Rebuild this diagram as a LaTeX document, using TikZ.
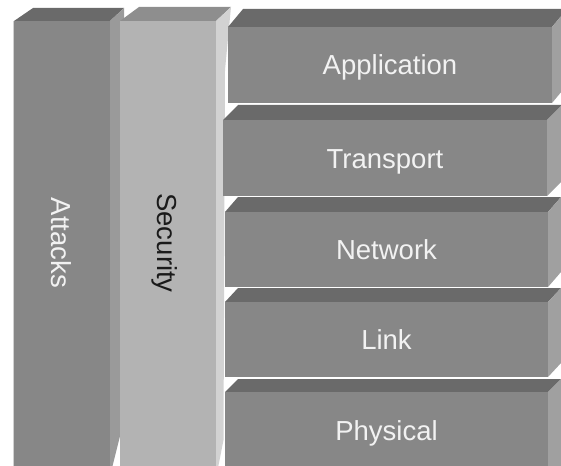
\documentclass[tikz,border=0pt]{standalone}
\usepackage{fontspec}
\setmainfont{Liberation Sans}
\definecolor{frontc}{HTML}{878787}
\definecolor{topc}{HTML}{6A6A6A}
\definecolor{sidec}{HTML}{A0A0A0}
\definecolor{secfront}{HTML}{B3B3B3}
\definecolor{sectop}{HTML}{8E8E8E}
\definecolor{secside}{HTML}{D2D2D2}
\definecolor{atkside}{HTML}{9A9A9A}
\definecolor{lbltext}{HTML}{F2F2F2}
\definecolor{sectext}{HTML}{1A1A1A}
\newcommand{\osilayer}[6]{%
  \fill[topc] (#1,#3) -- ({#1+#5},{#3-#6}) -- ({#2+#5},{#3-#6}) -- (#2,#3) -- cycle;
  \fill[sidec] (#2,#3) -- ({#2+#5},{#3-#6}) -- ({#2+#5},{#4-#6}) -- (#2,#4) -- cycle;
  \fill[frontc] (#1,#3) rectangle (#2,#4);
}
\begin{document}
\begin{tikzpicture}[x=1pt,y=-1pt,
  lbl/.style={font=\fontsize{27.5}{30}\selectfont, text=lbltext, inner sep=0pt, anchor=base},
  vlbl/.style={lbl, rotate=-90}]
\useasboundingbox (0,0) rectangle (561,465);
\begin{scope}
\clip (0,0) rectangle (561,465);
% Attacks column
\fill[topc] (14,21) -- (33,8) -- (124,8) -- (110,21) -- cycle;
\fill[atkside] (110,21) -- (124,8) -- (124,420) -- (112,468) -- (110,468) -- cycle;
\fill[frontc] (14,21) rectangle (110,470);
\draw[white!82!black, line width=0.8pt] (13.6,21) -- (13.6,470);
% Security column
\fill[sectop] (120,21) -- (139,7) -- (231,7) -- (216,21) -- cycle;
\fill[secside] (216,21) -- (231,7) -- (225,70) -- (223.5,440) -- (218,468) -- (216,468) -- cycle;
\fill[secfront] (120,21) rectangle (216,470);
% Layers
\osilayer{228}{552}{27}{103}{15}{18}
\osilayer{223}{547}{120}{196}{15}{15}
\osilayer{225}{548}{212}{287}{13}{15}
\osilayer{225}{548}{302}{377}{13}{14}
\osilayer{225}{548}{392}{490}{13}{13}
\end{scope}
% Labels
\node[vlbl] (attacks) at (51,243) {Attacks};
\node[vlbl, text=sectext] (security) at (157,243) {Security};
\node[lbl] (application) at (390,75) {Application};
\node[lbl] (transport) at (385,168) {Transport};
\node[lbl] (network) at (386.5,259.5) {Network};
\node[lbl] (link) at (386.5,349.5) {Link};
\node[lbl] (physical) at (386.5,440) {Physical};
\end{tikzpicture}
\end{document}
